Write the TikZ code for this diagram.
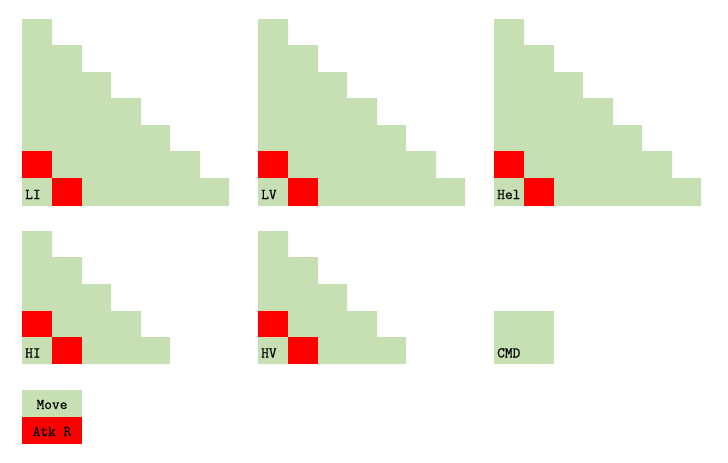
\documentclass[tikz,border=0pt]{standalone}
\usepackage{fontspec}
\newfontfamily\lblfont{Latin Modern Mono}[FakeBold=0.8]
\definecolor{mv}{HTML}{C6E0B4}
\definecolor{ak}{HTML}{FF0000}
% #1 ox, #2 row list ytop/ybot/right-offset (macro), #3 red1 ytop, #4 red1 ybot, #5 red2 ybot, #6 node name, #7 label, #8 label baseline
\newcommand\stairs[8]{%
  \fill[mv] \foreach \yt/\yb/\xr in #2 { (#1,\yt) rectangle ({#1+\xr},\yb) };
  \fill[ak] (#1,#3) rectangle ({#1+30},#4);
  \fill[ak] ({#1+30},#4) rectangle ({#1+60},#5);
  \node[lbl] (#6) at ({#1+3},#8) {#7};
}
\newcommand\bigrows{19/45/30,45/72/60,72/98/89,98/125/119,125/151/148,151/178/178,178/206/207}
\newcommand\smallrows{231/257/30,257/284/60,284/311/89,311/337/119,337/364/148}
\begin{document}
\begin{tikzpicture}[x=1pt,y=-1pt,
  lbl/.style={anchor=base west,font=\lblfont\fontsize{15}{15}\selectfont,inner sep=0pt,text=black},
  leg/.style={anchor=base,font=\lblfont\fontsize{15}{15}\selectfont,inner sep=0pt,text=black}]
\useasboundingbox (0,0) rectangle (728,463);
\stairs{22}{\bigrows}{151}{178}{206}{li}{LI}{199}
\stairs{258}{\bigrows}{151}{178}{206}{lv}{LV}{199}
\stairs{494}{\bigrows}{151}{178}{206}{hel}{Hel}{199}
\stairs{22}{\smallrows}{311}{337}{364}{hi}{HI}{357.5}
\stairs{258}{\smallrows}{311}{337}{364}{hv}{HV}{357.5}
% CMD block
\fill[mv] (494,311) rectangle (554,364);
\node[lbl] (cmd) at (497,357.5) {CMD};
% legend
\fill[mv] (22,390) rectangle (82,417);
\fill[ak] (22,417) rectangle (82,444);
\node[leg] (move) at (52,409) {Move};
\node[leg] (atkr) at (52,436) {Atk R};
\end{tikzpicture}
\end{document}
